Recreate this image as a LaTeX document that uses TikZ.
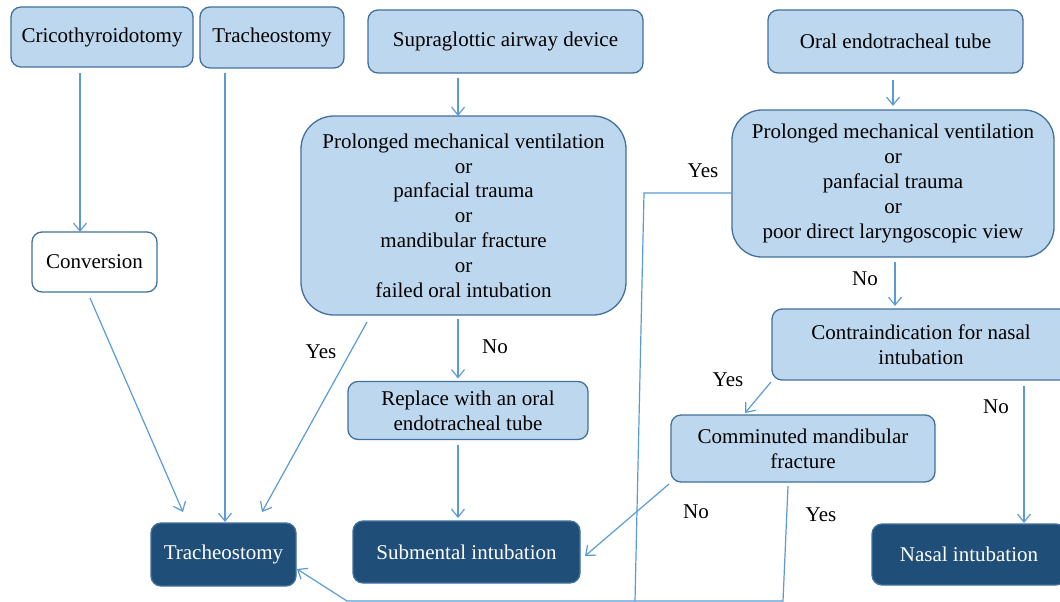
\documentclass[tikz,border=0pt]{standalone}
\usepackage{fontspec}
\setmainfont{Liberation Serif}
\usetikzlibrary{arrows.meta,calc}
\definecolor{boxfill}{RGB}{189,215,238}
\definecolor{boxline}{RGB}{65,113,156}
\definecolor{darkfill}{RGB}{31,78,121}
\definecolor{arrowc}{RGB}{91,155,213}
\begin{document}
\begin{tikzpicture}[x=1pt,y=-1pt,
  every node/.style={font=\fontsize{21}{24.8}\selectfont},
  lbox/.style={draw=boxline, fill=boxfill, line width=1.3pt, rounded corners=10pt,
    inner sep=0pt, outer sep=0pt, align=center},
  dbox/.style={lbox, fill=darkfill, text=white},
  wbox/.style={lbox, fill=white},
  conn/.style={draw=arrowc, line width=1.2pt, -{Straight Barb[length=8pt,width=13pt]}},
  plainline/.style={draw=arrowc, line width=1.2pt},
  lab/.style={inner sep=0pt}]
\fill[white] (0,0) rectangle (1060,602);
\useasboundingbox (0,0) rectangle (1060,602);

% boxes
\node[lbox, minimum width=182pt, minimum height=60pt] (crico) at (102,37) {Cricothyroidotomy};
\node[lbox, minimum width=144pt, minimum height=61pt] (trach1) at (272,37.5) {Tracheostomy};
\node[lbox, minimum width=275pt, minimum height=63pt] (supra) at (505.5,41.5) {Supraglottic airway device};
\node[lbox, minimum width=255pt, minimum height=63pt] (oral) at (895.5,41.5) {Oral endotracheal tube};
\node[wbox, minimum width=125pt, minimum height=60pt] (conv) at (94.5,262) {Conversion};
\node[lbox, rounded corners=33pt, minimum width=325pt, minimum height=199pt] (prolL) at (463.5,215.5)
  {Prolonged mechanical ventilation\\or\\panfacial trauma\\or\\mandibular fracture\\or\\failed oral intubation};
\node[lbox, rounded corners=30pt, minimum width=322pt, minimum height=147pt] (prolR) at (893,183.5)
  {Prolonged mechanical ventilation\\or\\panfacial trauma\\or\\poor direct laryngoscopic view};
\node[lbox, minimum width=240pt, minimum height=58pt] (replace) at (468,410.5)
  {Replace with an oral\\endotracheal tube};
\node[lbox, minimum width=298pt, minimum height=71pt] (contra) at (921,344.5)
  {Contraindication for nasal\\intubation};
\node[lbox, minimum width=264pt, minimum height=67pt] (commin) at (803,448.5)
  {Comminuted mandibular\\fracture};
\node[dbox, minimum width=145pt, minimum height=63pt] (trach2) at (223.5,554.5) {Tracheostomy};
\node[dbox, minimum width=227pt, minimum height=62pt] (subm) at (466.5,552) {Submental intubation};
\node[dbox, minimum width=194pt, minimum height=61pt] (nasal) at (969,554.5) {Nasal intubation};

% labels
\node[lab] (l1) at (321,352) {Yes};
\node[lab] (l2) at (495,347) {No};
\node[lab] (l3) at (703,171) {Yes};
\node[lab] (l4) at (865,279) {No};
\node[lab] (l5) at (728,380) {Yes};
\node[lab] (l6) at (996,407) {No};
\node[lab] (l7) at (696,512) {No};
\node[lab] (l8) at (821,515) {Yes};

% bend points
\coordinate (b1) at (783,601);
\coordinate (b2) at (347,601);
\coordinate (b3) at (644,193);
\coordinate (b4) at (635,601);

% connectors
\draw[conn] ($(crico.south)+(-22,6)$) -- ($(conv.north)+(-14.5,0)$);
\draw[conn] ($(trach1.south)+(-47,5)$) -- ($(trach2.north)+(1.5,-1)$);
\draw[conn] ($(conv.south)+(-4.5,6)$) -- ($(trach2.north)+(-40.5,-11)$);
\draw[conn] ($(prolL.south)+(-96.5,7)$) -- ($(trach2.north)+(38.5,-11)$);
\draw[conn] ($(supra.south)+(-47.5,5)$) -- ($(prolL.north)+(-5.5,0)$);
\draw[conn] ($(prolL.south)+(-5.5,4)$) -- ($(replace.north)+(-10,-3)$);
\draw[conn] ($(replace.south)+(-10,5)$) -- ($(subm.north)+(-8.5,-3)$);
\draw[conn] ($(oral.south)+(-2.5,7)$) -- ($(prolR.north)+(0,-4)$);
\draw[conn] ($(prolR.south)+(2,5)$) -- ($(contra.north)+(-26,-3)$);
\draw[conn] ($(contra.south west)+(-1,2)$) -- ($(commin.north)+(-58,-2)$);
\draw[conn] ($(contra.south)+(103,6)$) -- ($(nasal.north)+(55,-1)$);
\draw[conn] ($(commin.south west)+(-2,2)$) -- ($(subm.east)+(5,4)$);
\draw[conn] ($(commin.south)+(-15,4)$) -- (b1) -- (b2) -- ($(trach2.east)+(1,14.5)$);
\draw[plainline] ($(prolR.west)+(0,9.5)$) -- (b3) -- (b4);
\end{tikzpicture}
\end{document}
